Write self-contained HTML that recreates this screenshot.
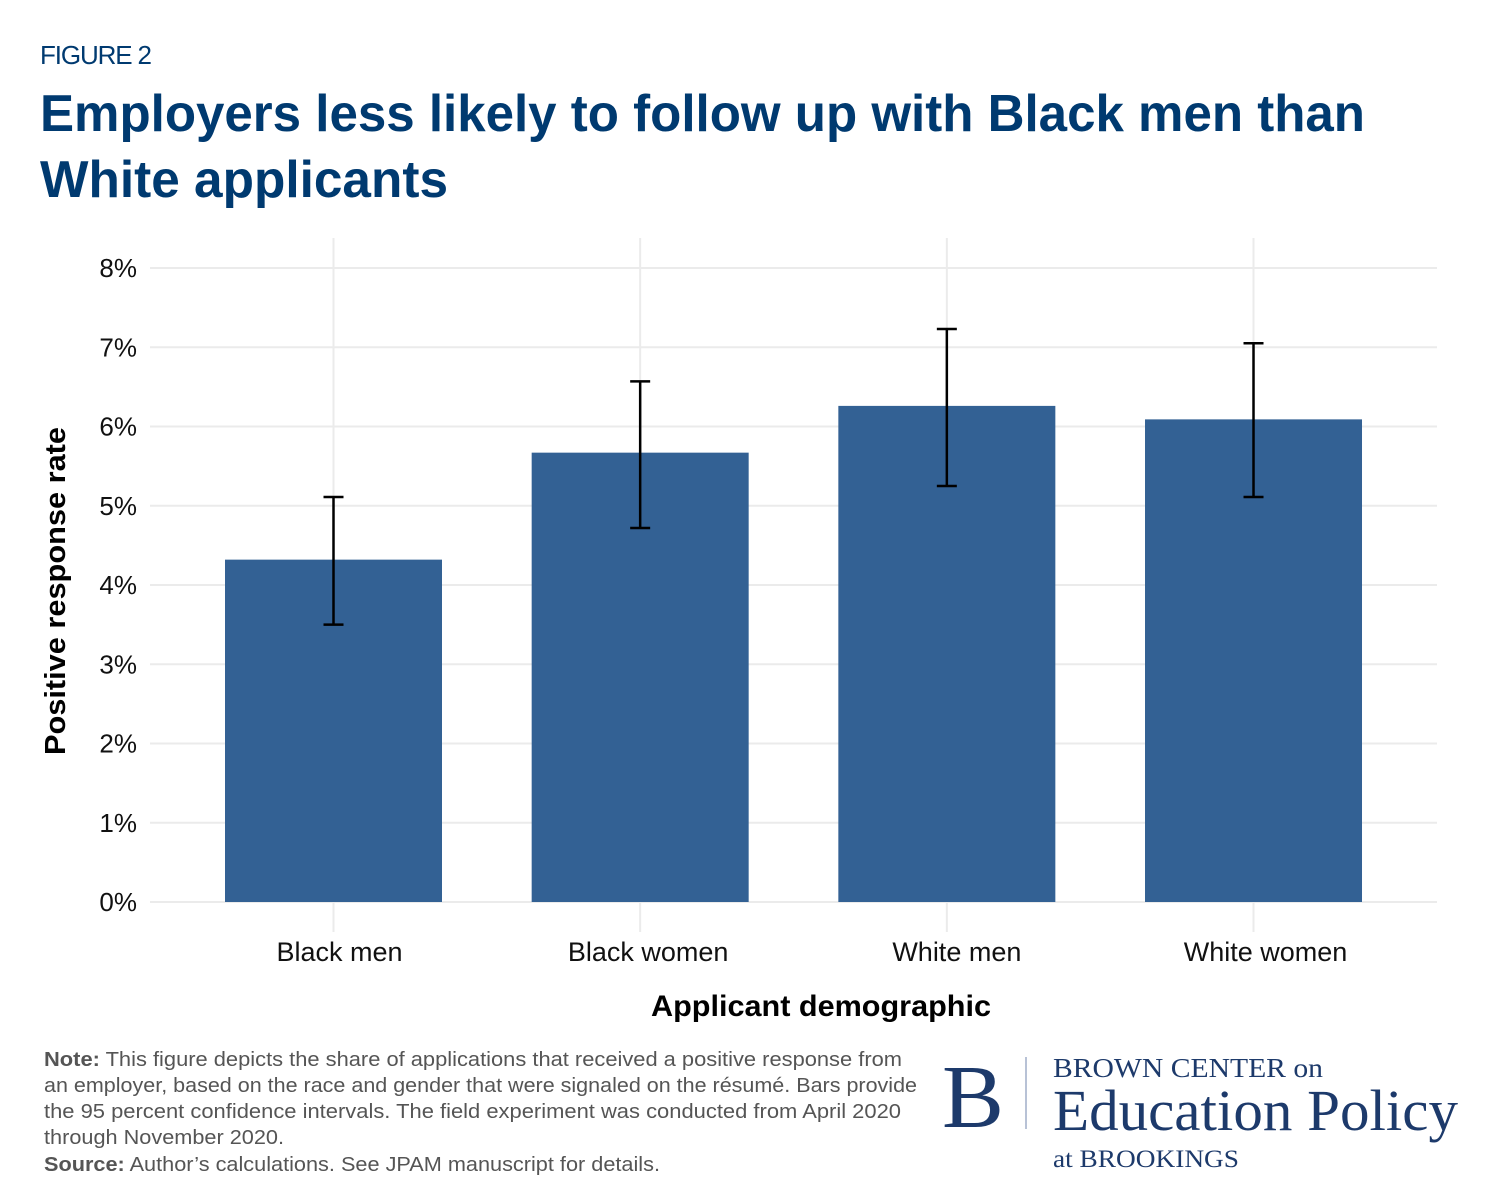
<!DOCTYPE html>
<html><head><meta charset="utf-8"><style>
html,body{margin:0;padding:0;background:#fff;}
svg{display:block;font-family:"Liberation Sans",sans-serif;}
</style></head><body>
<svg id="chart" width="1500" height="1189" viewBox="0 0 1500 1189">
<text x="40" y="64" font-size="26" fill="#003a70" textLength="112">FIGURE 2</text>
<text x="40" y="131" font-size="52" font-weight="bold" fill="#003a70" textLength="1325" lengthAdjust="spacingAndGlyphs">Employers less likely to follow up with Black men than</text>
<text x="40" y="197" font-size="52" font-weight="bold" fill="#003a70" textLength="408" lengthAdjust="spacingAndGlyphs">White applicants</text>
<g id="grid"></g>
<g id="bars"></g>
<g id="errs"></g>
<g id="yt"></g>
<g id="xt"></g>
<text transform="translate(65,591) rotate(-90)" text-anchor="middle" font-size="29" font-weight="bold" fill="#000" textLength="328" lengthAdjust="spacingAndGlyphs">Positive response rate</text>
<text x="821" y="1016" text-anchor="middle" font-size="30" font-weight="bold" fill="#000" textLength="340" lengthAdjust="spacingAndGlyphs">Applicant demographic</text>
<g font-size="20" fill="#555">
<text x="44" y="1066" textLength="858" lengthAdjust="spacingAndGlyphs"><tspan font-weight="bold">Note:</tspan> This figure depicts the share of applications that received a positive response from</text>
<text x="44" y="1092" textLength="873" lengthAdjust="spacingAndGlyphs">an employer, based on the race and gender that were signaled on the résumé. Bars provide</text>
<text x="44" y="1118" textLength="857" lengthAdjust="spacingAndGlyphs">the 95 percent confidence intervals. The field experiment was conducted from April 2020</text>
<text x="44" y="1144" textLength="240" lengthAdjust="spacingAndGlyphs">through November 2020.</text>
<text x="44" y="1171" textLength="616" lengthAdjust="spacingAndGlyphs"><tspan font-weight="bold">Source:</tspan> Author’s calculations. See JPAM manuscript for details.</text>
</g>
<g fill="#1d3a6b" font-family="Liberation Serif, serif">
<text x="942" y="1127" font-size="90" textLength="62" lengthAdjust="spacingAndGlyphs">B</text>
<rect x="1025" y="1057" width="2" height="72" fill="#b8c2d6"/>
<text x="1053" y="1077" font-size="27" textLength="270" lengthAdjust="spacingAndGlyphs">BROWN CENTER on</text>
<text x="1053" y="1130" font-size="58" textLength="405" lengthAdjust="spacingAndGlyphs">Education Policy</text>
<text x="1053" y="1167" font-size="25" textLength="186" lengthAdjust="spacingAndGlyphs">at BROOKINGS</text>
</g>
</svg>
<script>
const categories=["Black men","Black women","White men","White women"];
const values=[4.32,5.67,6.26,6.09];
const ciLow=[3.50,4.72,5.25,5.11];
const ciHigh=[5.11,6.57,7.23,7.05];
const yTicks=[0,1,2,3,4,5,6,7,8];
const yTickLabels=["0%","1%","2%","3%","4%","5%","6%","7%","8%"];
const NS="http://www.w3.org/2000/svg";
const y0=902,pxPer=79.25,xL=150,xR=1437;
const y=v=>y0-v*pxPer;
const x=i=>333.5+306.67*i;
const bw=217;
function mk(tag,attrs,parent){const e=document.createElementNS(NS,tag);for(const k in attrs)e.setAttribute(k,attrs[k]);document.getElementById(parent).appendChild(e);return e;}
yTicks.forEach((t,i)=>{
  const l=mk("line",{x1:xL,x2:xR,y1:y(t),y2:y(t),stroke:"#ebebeb","stroke-width":2},"grid");
  
  
  const tx=mk("text",{x:137,y:y(t)+9,"text-anchor":"end","font-size":26,fill:"#111"},"yt");
  tx.textContent=yTickLabels[i];
  
  
});
categories.forEach((c,i)=>{
  const cx=x(i);
  const g=mk("line",{x1:cx,x2:cx,y1:238,y2:932,stroke:"#ebebeb","stroke-width":2},"grid");
  
  
  const r=mk("rect",{x:cx-bw/2,y:y(values[i]),width:bw,height:y0-y(values[i]),fill:"#336194"},"bars");
  
  
  const e=mk("path",{d:`M${cx-10},${y(ciHigh[i])}H${cx+10}M${cx},${y(ciHigh[i])}V${y(ciLow[i])}M${cx-10},${y(ciLow[i])}H${cx+10}`,stroke:"#000","stroke-width":2.5,fill:"none"},"errs");
  
  
  const t=mk("text",{x:cx+6+i*2,y:961,"text-anchor":"middle","font-size":27,fill:"#111"},"xt");
  t.textContent=c;
  
  
});
</script>
</body></html>
